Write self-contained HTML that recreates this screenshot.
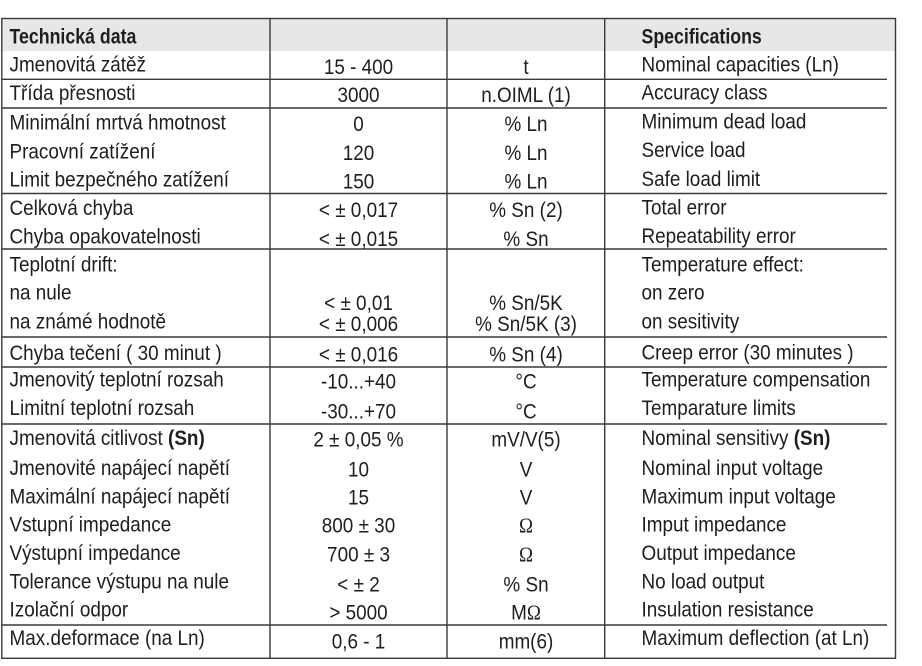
<!DOCTYPE html>
<html>
<head>
<meta charset="utf-8">
<style>
html,body{margin:0;padding:0;background:#fff;}
svg{display:block;}
text{font-family:"Liberation Sans",Arial,sans-serif;font-size:21px;fill:#1e1e1e;}
.b{font-weight:bold;}
.m{text-anchor:middle;}
.s{font-family:"Liberation Serif",serif;}
</style>
</head>
<body>
<svg width="922" height="666" viewBox="0 0 922 666" xmlns="http://www.w3.org/2000/svg">
<rect x="0" y="0" width="922" height="666" fill="#fff"/>
<rect x="2" y="18.5" width="893.5" height="32.5" fill="#e7e7e7"/>
<g stroke="#3a3a3a" stroke-width="1.4" fill="none">
<rect x="1.8" y="18.5" width="893.7" height="639.8"/>
<line x1="270" y1="18.5" x2="270" y2="658.3"/>
<line x1="447" y1="18.5" x2="447" y2="658.3"/>
<line x1="604.7" y1="18.5" x2="604.7" y2="658.3"/>
<line x1="1.8" y1="79.3" x2="887" y2="79.3"/>
<line x1="1.8" y1="108" x2="887" y2="108"/>
<line x1="1.8" y1="193.5" x2="887" y2="193.5"/>
<line x1="1.8" y1="249" x2="887" y2="249"/>
<line x1="1.8" y1="337" x2="887" y2="337"/>
<line x1="1.8" y1="367" x2="887" y2="367"/>
<line x1="1.8" y1="424" x2="887" y2="424"/>
<line x1="1.8" y1="625" x2="887" y2="625"/>
</g>

<!-- header -->
<text class="b" transform="translate(9.5,43.5) scale(0.845,1)">Technická data</text>
<text class="b" transform="translate(641.5,43.5) scale(0.845,1)">Specifications</text>

<!-- column 1 -->
<g>
<text transform="translate(9.5,71.7) scale(0.9,1)">Jmenovitá zátěž</text>
<text transform="translate(9.5,100) scale(0.9,1)">Třída přesnosti</text>
<text transform="translate(9.5,129.3) scale(0.9,1)">Minimální mrtvá hmotnost</text>
<text transform="translate(9.5,158.3) scale(0.9,1)">Pracovní zatížení</text>
<text transform="translate(9.5,186.7) scale(0.9,1)">Limit bezpečného zatížení</text>
<text transform="translate(9.5,215) scale(0.9,1)">Celková chyba</text>
<text transform="translate(9.5,243.3) scale(0.9,1)">Chyba opakovatelnosti</text>
<text transform="translate(9.5,271.7) scale(0.9,1)">Teplotní drift:</text>
<text transform="translate(9.5,299.5) scale(0.9,1)">na nule</text>
<text transform="translate(9.5,328.5) scale(0.9,1)">na známé hodnotě</text>
<text transform="translate(9.5,360) scale(0.9,1)">Chyba tečení ( 30 minut )</text>
<text transform="translate(9.5,386.7) scale(0.9,1)">Jmenovitý teplotní rozsah</text>
<text transform="translate(9.5,415) scale(0.9,1)">Limitní teplotní rozsah</text>
<text transform="translate(9.5,445) scale(0.9,1)">Jmenovitá citlivost <tspan class="b">(Sn)</tspan></text>
<text transform="translate(9.5,475) scale(0.9,1)">Jmenovité napájecí napětí</text>
<text transform="translate(9.5,503.5) scale(0.9,1)">Maximální napájecí napětí</text>
<text transform="translate(9.5,531.7) scale(0.9,1)">Vstupní impedance</text>
<text transform="translate(9.5,560) scale(0.9,1)">Výstupní impedance</text>
<text transform="translate(9.5,588.3) scale(0.9,1)">Tolerance výstupu na nule</text>
<text transform="translate(9.5,616.7) scale(0.9,1)">Izolační odpor</text>
<text transform="translate(9.5,645) scale(0.9,1)">Max.deformace (na Ln)</text>
</g>

<!-- column 2 -->
<g class="m">
<text class="m" transform="translate(358.5,74) scale(0.9,1)">15 - 400</text>
<text class="m" transform="translate(358.5,102) scale(0.9,1)">3000</text>
<text class="m" transform="translate(358.5,131) scale(0.9,1)">0</text>
<text class="m" transform="translate(358.5,160) scale(0.9,1)">120</text>
<text class="m" transform="translate(358.5,188.5) scale(0.9,1)">150</text>
<text class="m" transform="translate(358.5,217) scale(0.9,1)">&lt; ± 0,017</text>
<text class="m" transform="translate(358.5,246) scale(0.9,1)">&lt; ± 0,015</text>
<text class="m" transform="translate(358.5,310) scale(0.9,1)">&lt; ± 0,01</text>
<text class="m" transform="translate(358.5,331) scale(0.9,1)">&lt; ± 0,006</text>
<text class="m" transform="translate(358.5,361.7) scale(0.9,1)">&lt; ± 0,016</text>
<text class="m" transform="translate(358.5,388.3) scale(0.9,1)">-10...+40</text>
<text class="m" transform="translate(358.5,418.3) scale(0.9,1)">-30...+70</text>
<text class="m" transform="translate(358.5,446.7) scale(0.9,1)">2 ± 0,05 %</text>
<text class="m" transform="translate(358.5,476.7) scale(0.9,1)">10</text>
<text class="m" transform="translate(358.5,504.5) scale(0.9,1)">15</text>
<text class="m" transform="translate(358.5,532.7) scale(0.9,1)">800 ± 30</text>
<text class="m" transform="translate(358.5,561.7) scale(0.9,1)">700 ± 3</text>
<text class="m" transform="translate(358.5,591.7) scale(0.9,1)">&lt; ± 2</text>
<text class="m" transform="translate(358.5,619.3) scale(0.9,1)">&gt; 5000</text>
<text class="m" transform="translate(358.5,648.3) scale(0.9,1)">0,6 - 1</text>
</g>

<!-- column 3 -->
<g>
<text class="m" transform="translate(526,74) scale(0.9,1)">t</text>
<text class="m" transform="translate(526,102) scale(0.9,1)">n.OIML (1)</text>
<text class="m" transform="translate(526,131) scale(0.9,1)">% Ln</text>
<text class="m" transform="translate(526,160) scale(0.9,1)">% Ln</text>
<text class="m" transform="translate(526,188.5) scale(0.9,1)">% Ln</text>
<text class="m" transform="translate(526,217) scale(0.9,1)">% Sn (2)</text>
<text class="m" transform="translate(526,246) scale(0.9,1)">% Sn</text>
<text class="m" transform="translate(526,310) scale(0.9,1)">% Sn/5K</text>
<text class="m" transform="translate(526,331) scale(0.9,1)">% Sn/5K (3)</text>
<text class="m" transform="translate(526,361.7) scale(0.9,1)">% Sn (4)</text>
<text class="m" transform="translate(526,388.3) scale(0.9,1)">°C</text>
<text class="m" transform="translate(526,418.3) scale(0.9,1)">°C</text>
<text class="m" transform="translate(526,446.7) scale(0.9,1)">mV/V(5)</text>
<text class="m" transform="translate(526,476.7) scale(0.9,1)">V</text>
<text class="m" transform="translate(526,504.5) scale(0.9,1)">V</text>
<text class="m s" transform="translate(526,532.7) scale(0.9,1)">Ω</text>
<text class="m s" transform="translate(526,561.7) scale(0.9,1)">Ω</text>
<text class="m" transform="translate(526,591.7) scale(0.9,1)">% Sn</text>
<text class="m" transform="translate(526,619.3) scale(0.9,1)">M<tspan class="s">Ω</tspan></text>
<text class="m" transform="translate(526,648.3) scale(0.9,1)">mm(6)</text>
</g>

<!-- column 4 -->
<g>
<text transform="translate(641.5,71.7) scale(0.9,1)">Nominal capacities (Ln)</text>
<text transform="translate(641.5,99.5) scale(0.9,1)">Accuracy class</text>
<text transform="translate(641.5,128.5) scale(0.9,1)">Minimum dead load</text>
<text transform="translate(641.5,157) scale(0.9,1)">Service load</text>
<text transform="translate(641.5,186) scale(0.9,1)">Safe load limit</text>
<text transform="translate(641.5,214.5) scale(0.9,1)">Total error</text>
<text transform="translate(641.5,243) scale(0.9,1)">Repeatability error</text>
<text transform="translate(641.5,271.5) scale(0.9,1)">Temperature effect:</text>
<text transform="translate(641.5,299.5) scale(0.9,1)">on zero</text>
<text transform="translate(641.5,328.5) scale(0.9,1)">on sesitivity</text>
<text transform="translate(641.5,359.5) scale(0.9,1)">Creep error (30 minutes )</text>
<text transform="translate(641.5,386.7) scale(0.9,1)">Temperature compensation</text>
<text transform="translate(641.5,415) scale(0.9,1)">Temparature limits</text>
<text transform="translate(641.5,445) scale(0.9,1)">Nominal sensitivy <tspan class="b">(Sn)</tspan></text>
<text transform="translate(641.5,475) scale(0.9,1)">Nominal input voltage</text>
<text transform="translate(641.5,503.5) scale(0.9,1)">Maximum input voltage</text>
<text transform="translate(641.5,531.7) scale(0.9,1)">Imput impedance</text>
<text transform="translate(641.5,560) scale(0.9,1)">Output impedance</text>
<text transform="translate(641.5,588.3) scale(0.9,1)">No load output</text>
<text transform="translate(641.5,616.7) scale(0.9,1)">Insulation resistance</text>
<text transform="translate(641.5,645) scale(0.9,1)">Maximum deflection (at Ln)</text>
</g>
</svg>
</body>
</html>
